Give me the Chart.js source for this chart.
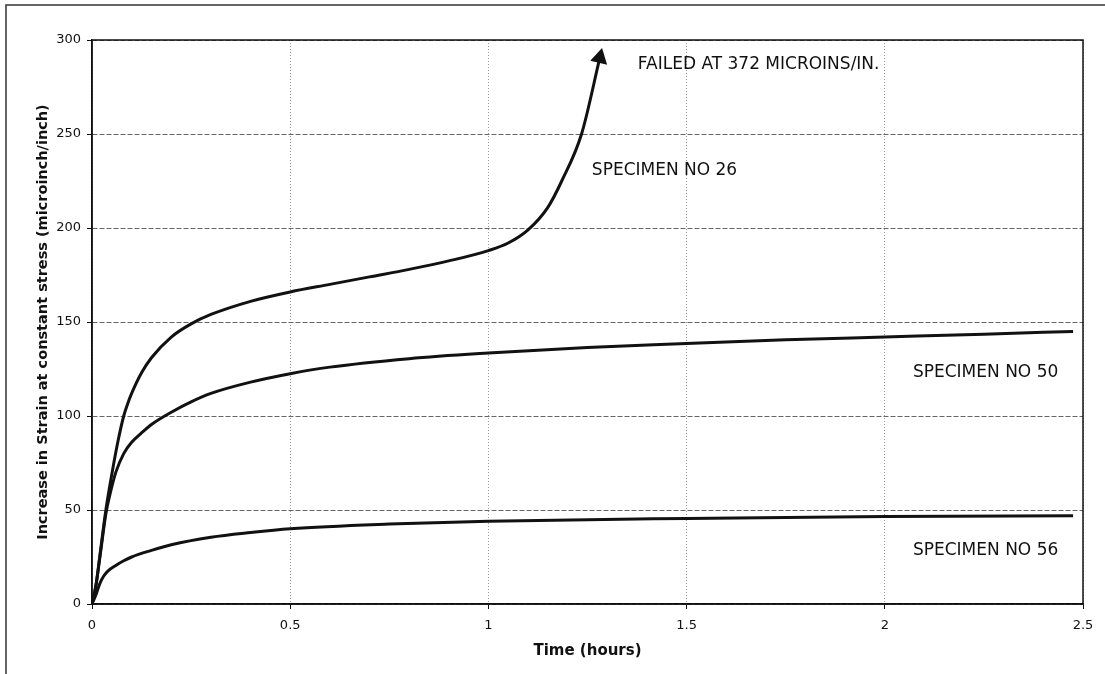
<!DOCTYPE html>
<html>
<head>
<meta charset="utf-8">
<script src="https://cdn.jsdelivr.net/npm/chart.js@4.4.1/dist/chart.umd.min.js"></script>
<style>
  html, body { margin: 0; padding: 0; background: #fff; }
  #wrap { width: 1105px; height: 674px; }
</style>
</head>
<body>
<div id="wrap"><canvas id="fluenciaChart" width="1105" height="674"></canvas></div>
<script>
// Corpo de prova 26 (rompeu)
const tempo26 = [0, 0.01, 0.02, 0.035, 0.05, 0.065, 0.08, 0.09, 0.1, 0.125, 0.15, 0.2, 0.25, 0.3, 0.4, 0.5, 0.6, 0.7, 0.8, 0.9, 1.0, 1.05, 1.1, 1.15, 1.185, 1.235, 1.281];
const deform26 = [0, 10, 26, 50, 69, 86, 100, 106.5, 112, 123, 131, 142, 149, 154, 161, 166, 170, 174, 178, 182.5, 188, 192, 199, 211, 225, 250, 290.5];

// Corpo de prova 50
const tempo50 = [0, 0.01, 0.02, 0.035, 0.045, 0.06, 0.08, 0.1, 0.125, 0.15, 0.2, 0.25, 0.3, 0.4, 0.5, 0.6, 0.8, 1.0, 1.25, 1.5, 1.75, 2.0, 2.25, 2.475];
const deform50 = [0, 10, 25, 48, 58, 70, 80, 86, 91, 95.5, 102, 107.5, 112, 118, 122.5, 126, 130.5, 133.5, 136.5, 138.5, 140.5, 142, 143.5, 145];

// Corpo de prova 56
const tempo56 = [0, 0.01, 0.02, 0.03, 0.04, 0.06, 0.08, 0.1, 0.15, 0.2, 0.3, 0.4, 0.5, 0.75, 1.0, 1.5, 2.0, 2.475];
const deform56 = [0, 5, 11, 15, 17.5, 20.5, 23, 25, 28.5, 31.5, 35.5, 38, 40, 42.5, 44, 45.5, 46.5, 47];

const ticksX = [0, 0.5, 1, 1.5, 2, 2.5];
const ticksY = [0, 50, 100, 150, 200, 250, 300];

// Rótulos escritos dentro do gráfico (âncora em coordenadas de dados)
const notas = [
  { texto: 'FAILED AT 372 MICROINS/IN.', t: 1.377, v: 287 },
  { texto: 'SPECIMEN NO 26', t: 1.261, v: 230.5 },
  { texto: 'SPECIMEN NO 50', t: 2.071, v: 123 },
  { texto: 'SPECIMEN NO 56', t: 2.071, v: 28.5 }
];

function montarPontos(tempos, valores) {
  return tempos.map((t, i) => ({ x: t, y: valores[i] }));
}

// Moldura externa + borda da área de plotagem + textos
const moldura = {
  id: 'moldura',
  beforeDraw(chart) {
    const ctx = chart.ctx;
    ctx.save();
    ctx.fillStyle = '#fff';
    ctx.fillRect(0, 0, chart.width, chart.height);
    ctx.strokeStyle = '#333';
    ctx.lineWidth = 1.5;
    ctx.beginPath();
    ctx.moveTo(6, chart.height);
    ctx.lineTo(6, 5);
    ctx.lineTo(chart.width, 5);
    ctx.stroke();
    ctx.restore();
  },
  beforeDatasetsDraw(chart) {
    const { ctx, chartArea: a } = chart;
    ctx.save();
    ctx.strokeStyle = '#111';
    ctx.lineWidth = 1.5;
    ctx.strokeRect(a.left, a.top, a.right - a.left, a.bottom - a.top);
    ctx.restore();
  },
  afterDatasetsDraw(chart) {
    const ctx = chart.ctx;
    const sx = chart.scales.x, sy = chart.scales.y;
    ctx.save();
    ctx.fillStyle = '#111';
    ctx.font = '17px "DejaVu Sans"';
    ctx.textAlign = 'left';
    ctx.textBaseline = 'middle';
    notas.forEach(n => {
      ctx.fillText(n.texto, sx.getPixelForValue(n.t), sy.getPixelForValue(n.v));
    });
    ctx.restore();
  }
};

const estiloLinha = {
  borderColor: '#111',
  backgroundColor: '#111',
  borderWidth: 3,
  fill: false,
  cubicInterpolationMode: 'monotone',
  pointRadius: 0,
  pointHoverRadius: 0
};

const ctx = document.getElementById('fluenciaChart').getContext('2d');
new Chart(ctx, {
  type: 'line',
  data: {
    datasets: [
      Object.assign({}, estiloLinha, {
        label: 'SPECIMEN NO 26',
        data: montarPontos(tempo26, deform26),
        // seta no último ponto (ruptura)
        pointRadius: c => (c.dataIndex === tempo26.length - 1 ? 10 : 0),
        pointStyle: 'triangle',
        pointRotation: 13,
        pointBackgroundColor: '#111',
        pointBorderWidth: 0
      }),
      Object.assign({}, estiloLinha, {
        label: 'SPECIMEN NO 50',
        data: montarPontos(tempo50, deform50)
      }),
      Object.assign({}, estiloLinha, {
        label: 'SPECIMEN NO 56',
        data: montarPontos(tempo56, deform56)
      })
    ]
  },
  options: {
    responsive: false,
    animation: false,
    devicePixelRatio: 1,
    layout: { padding: { top: 40, right: 22, left: 0, bottom: 0 } },
    plugins: {
      legend: { display: false },
      tooltip: { enabled: false }
    },
    scales: {
      x: {
        type: 'linear',
        min: 0,
        max: 2.5,
        afterBuildTicks: s => { s.ticks = ticksX.map(v => ({ value: v })); },
        afterFit: s => { s.height = 70; },
        ticks: {
          color: '#111',
          font: { family: 'DejaVu Sans', size: 13 },
          padding: 9,
          maxRotation: 0,
          callback: v => String(v)
        },
        grid: { color: '#999', lineWidth: 1, tickLength: 5, tickColor: '#111' },
        border: { color: '#111', width: 1.5, dash: [1, 2] },
        title: {
          display: true,
          text: 'Time (hours)',
          color: '#111',
          font: { family: 'DejaVu Sans', size: 15, weight: 'bold' },
          padding: { top: 0, bottom: 14 }
        }
      },
      y: {
        min: 0,
        max: 300,
        afterBuildTicks: s => { s.ticks = ticksY.map(v => ({ value: v })); },
        afterFit: s => { s.width = 92; },
        ticks: {
          color: '#111',
          font: { family: 'DejaVu Sans', size: 13 },
          padding: 6
        },
        grid: { color: '#666', lineWidth: 1, tickLength: 5, tickColor: '#111' },
        border: { color: '#111', width: 1.5, dash: [5, 2] },
        title: {
          display: true,
          text: 'Increase in Strain at constant stress (microinch/inch)',
          color: '#111',
          font: { family: 'DejaVu Sans', size: 14.5, weight: 'bold' },
          padding: { top: 35, bottom: 0 }
        }
      }
    }
  },
  plugins: [moldura]
});
</script>
</body>
</html>
